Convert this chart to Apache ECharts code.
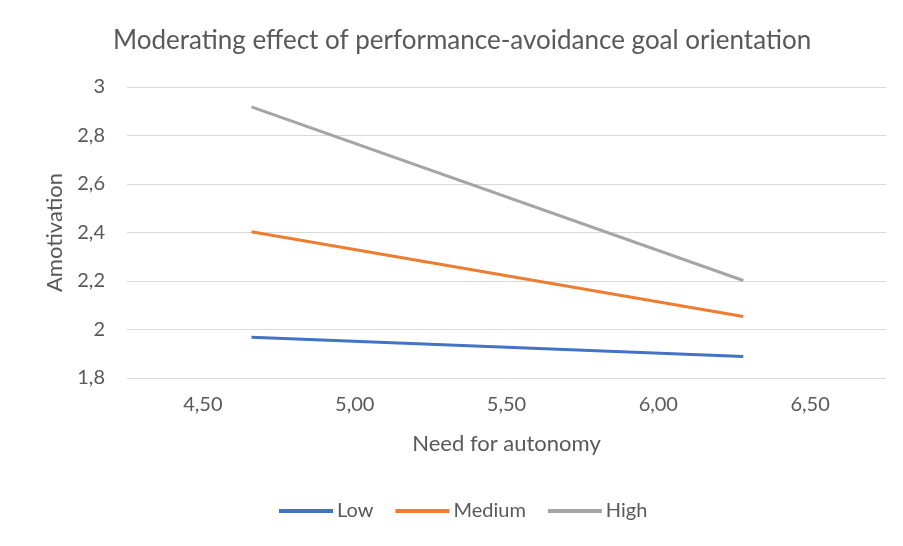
<!DOCTYPE html>
<html><head><meta charset="utf-8">
<script src="https://cdn.jsdelivr.net/npm/echarts@6/dist/echarts.min.js"></script>
<style>html,body{margin:0;padding:0;background:#fff}#c{width:903px;height:546px}</style>
</head><body><div id="c"></div>
<script>
const xValues = [4.66, 6.28];
const lowValues = [1.968, 1.889];
const mediumValues = [2.403, 2.054];
const highValues = [2.918, 2.202];
const seriesNames = ['Low', 'Medium', 'High'];
const xTicks = [4.5, 5.0, 5.5, 6.0, 6.5];
const colors = ['#4472C4', '#ED7D31', '#A5A5A5'];
const FONT = 'Lato';
const all = [lowValues, mediumValues, highValues];
const chart = echarts.init(document.getElementById('c'));
chart.setOption({
  animation: false,
  title: { text: 'Moderating effect of performance-avoidance goal orientation', left: 108, top: 23,
    textStyle: { fontFamily: FONT, fontSize: 26, fontWeight: 'normal', color: '#595959' } },
  legend: { top: 496, left: 274, icon: 'rect', itemWidth: 54, itemHeight: 4, itemGap: 22,
    textStyle: { fontFamily: FONT, fontSize: 20, color: '#595959', padding: [0, 0, 0, -1] },
    data: seriesNames },
  grid: { left: 127, right: 17, top: 87, bottom: 168 },
  xAxis: { type: 'value', min: 4.25, max: 6.75, name: 'Need for autonomy', nameLocation: 'middle', nameGap: 55,
    nameTextStyle: { fontFamily: FONT, fontSize: 22, color: '#595959' },
    axisLine: { show: false }, axisTick: { show: false }, splitLine: { show: false },
    axisLabel: { customValues: xTicks, margin: 17, fontFamily: FONT, fontSize: 20, color: '#595959',
      formatter: v => v.toFixed(2).replace('.', ',') } },
  yAxis: { type: 'value', min: 1.8, max: 3, interval: 0.2, name: 'Amotivation', nameLocation: 'middle', nameGap: 61,
    nameTextStyle: { fontFamily: FONT, fontSize: 22, color: '#595959' },
    axisLine: { show: false }, axisTick: { show: false },
    splitLine: { lineStyle: { color: '#D9D9D9', width: 1 } },
    axisLabel: { margin: 22, fontFamily: FONT, fontSize: 20, color: '#595959',
      formatter: v => String(Math.round(v * 10) / 10).replace('.', ',') } },
  series: seriesNames.map((n, i) => ({
    name: n, type: 'line', showSymbol: false, symbol: 'none', color: colors[i],
    lineStyle: { width: 3, color: colors[i] },
    data: xValues.map((x, j) => [x, all[i][j]])
  }))
});
</script></body></html>
